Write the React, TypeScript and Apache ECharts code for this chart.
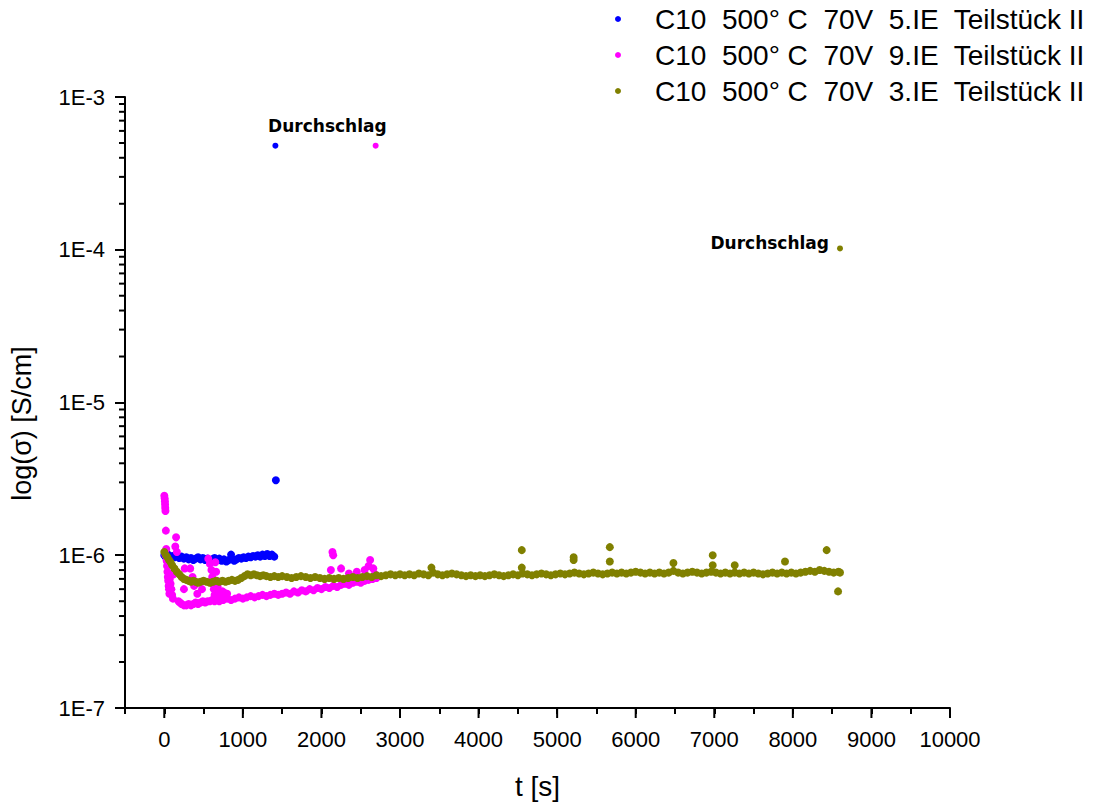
import React, { useEffect, useRef } from "react";
import * as echarts from "echarts";

const UNIT = 1e-6;
const X_MIN = -500;
const X_MAX = 10000;
const Y_MIN = 1e-7;
const Y_MAX = 1e-3;

const seriesNames = [
  "C10  500° C  70V  5.IE  Teilstück II",
  "C10  500° C  70V  9.IE  Teilstück II",
  "C10  500° C  70V  3.IE  Teilstück II",
];
const seriesColors = ["#0000ff", "#ff00ff", "#808000"];

// [t in s, sigma in 1e-6 S/cm]
const blueData: number[][] = [
  [0, 1.0], [20, 0.97], [40, 1.02], [60, 0.98], [80, 0.95], [100, 0.99], [130, 0.97], [160, 1.0],
  [190, 0.96], [220, 0.98], [250, 0.95], [280, 0.97], [310, 0.94], [340, 0.96], [370, 0.93], [400, 0.95],
  [430, 0.97], [460, 0.94], [490, 0.96], [520, 0.93], [550, 0.95], [580, 0.92], [610, 0.94], [640, 0.96],
  [670, 0.93], [700, 0.95], [730, 0.92], [760, 0.94], [790, 0.91], [820, 0.93], [850, 1.01], [860, 0.95],
  [890, 0.92], [920, 0.94], [950, 0.96], [980, 0.95], [1010, 0.97], [1040, 0.96], [1070, 0.98], [1100, 0.97],
  [1130, 0.99], [1160, 0.98], [1190, 1.0], [1220, 0.98], [1250, 1.01], [1280, 0.99], [1310, 1.02], [1340, 0.99],
  [1370, 1.01], [1400, 0.98], [1420, 3.1],
];
const blueBreakdown = [1414, 480];

const magentaData: number[][] = [
  [0, 2.45], [5, 2.35], [8, 2.25], [10, 2.15], [12, 2.05], [15, 1.95], [20, 1.45], [25, 1.1], [15, 1.0],
  [30, 0.92], [35, 0.85], [40, 0.78], [45, 0.72], [50, 0.68], [55, 0.63], [60, 0.6], [65, 0.56], [70, 0.7],
  [80, 0.65], [90, 0.6], [100, 0.55], [110, 0.52], [120, 0.75], [150, 1.31], [140, 1.14], [160, 1.05],
  [180, 0.5], [200, 0.49], [220, 0.48], [250, 0.47], [280, 0.47], [310, 0.48], [340, 0.47], [370, 0.48],
  [400, 0.49], [430, 0.48], [460, 0.49], [490, 0.5], [520, 0.49], [550, 0.5], [580, 0.5], [610, 0.51],
  [640, 0.5], [670, 0.51], [700, 0.5], [250, 0.6], [260, 0.82], [330, 0.82], [360, 0.72], [380, 0.63],
  [420, 0.56], [480, 0.6], [560, 0.95], [580, 0.88], [600, 0.8], [610, 0.72], [620, 0.65], [630, 0.6],
  [640, 0.55], [650, 0.9], [660, 0.78], [670, 0.68], [680, 0.62], [700, 0.58], [720, 0.55], [740, 0.58],
  [760, 0.57], [800, 0.56], [750, 0.51], [800, 0.52], [850, 0.51], [900, 0.52], [950, 0.53], [1000, 0.52],
  [1050, 0.53], [1100, 0.54], [1150, 0.53], [1200, 0.54], [1250, 0.55], [1300, 0.54], [1350, 0.55],
  [1400, 0.56], [1450, 0.55], [1500, 0.56], [1550, 0.57], [1600, 0.56], [1650, 0.58], [1700, 0.57],
  [1750, 0.59], [1800, 0.58], [1850, 0.6], [1900, 0.59], [1950, 0.61], [2000, 0.6], [2050, 0.62],
  [2100, 0.61], [2150, 0.63], [2200, 0.62], [2250, 0.64], [2300, 0.65], [2350, 0.64], [2400, 0.66],
  [2450, 0.67], [2500, 0.66], [2550, 0.68], [2600, 0.69], [2650, 0.7], [2700, 0.71],
  [2140, 1.05], [2150, 1.0], [2120, 0.8], [2250, 0.82], [2350, 0.76], [2450, 0.78], [2550, 0.8],
  [2600, 0.85], [2620, 0.93], [2660, 0.82], [2680, 0.75],
];
const magentaBreakdown = [2690, 480];

const oliveData: number[][] = [
  [0, 1.05], [20, 1.0], [40, 0.97], [60, 0.93], [80, 0.9], [100, 0.86], [130, 0.82], [160, 0.78],
  [190, 0.75], [220, 0.72], [250, 0.7], [280, 0.69], [310, 0.68], [340, 0.67], [370, 0.68], [400, 0.67],
  [430, 0.66], [460, 0.67], [500, 0.68], [540, 0.67], [580, 0.66], [620, 0.67], [660, 0.68], [700, 0.67],
  [740, 0.68], [780, 0.67], [820, 0.68], [860, 0.69], [900, 0.68], [940, 0.69], [980, 0.71], [1020, 0.73],
  [1060, 0.75], [1100, 0.74], [1140, 0.75], [1180, 0.74], [1220, 0.73], [1260, 0.74], [1300, 0.73],
  [1350, 0.72], [1400, 0.73], [1450, 0.72], [1500, 0.73], [1560, 0.72], [1620, 0.71], [1680, 0.72],
  [1740, 0.73], [1800, 0.72], [1860, 0.71], [1920, 0.72], [1980, 0.71], [2040, 0.7], [2100, 0.71],
  [2160, 0.7], [2220, 0.71], [2280, 0.7], [2340, 0.71], [2400, 0.72], [2460, 0.71], [2520, 0.72],
  [2580, 0.73], [2640, 0.72], [2700, 0.74], [2760, 0.73], [2820, 0.74], [2880, 0.75], [2940, 0.74],
  [3000, 0.75], [3060, 0.74], [3120, 0.75], [3180, 0.74], [3240, 0.76], [3300, 0.75], [3360, 0.74],
  [3420, 0.77], [3480, 0.75], [3540, 0.74], [3600, 0.75], [3660, 0.76], [3720, 0.75], [3780, 0.74],
  [3840, 0.73], [3900, 0.74], [3960, 0.73], [4020, 0.74], [4080, 0.73], [4140, 0.74], [4200, 0.75],
  [4260, 0.74], [4320, 0.73], [4380, 0.74], [4440, 0.75], [4500, 0.74], [4560, 0.76], [4620, 0.75],
  [4680, 0.74], [4740, 0.75], [4800, 0.76], [4860, 0.75], [4920, 0.74], [4980, 0.75], [5040, 0.76],
  [5100, 0.75], [5160, 0.76], [5220, 0.77], [5280, 0.76], [5340, 0.75], [5400, 0.76], [5460, 0.77],
  [5520, 0.76], [5580, 0.75], [5640, 0.76], [5700, 0.77], [5760, 0.76], [5820, 0.77], [5880, 0.76],
  [5940, 0.77], [6000, 0.78], [6060, 0.77], [6120, 0.76], [6180, 0.77], [6240, 0.76], [6300, 0.77],
  [6360, 0.76], [6420, 0.77], [6480, 0.79], [6540, 0.77], [6600, 0.76], [6660, 0.77], [6720, 0.78],
  [6780, 0.77], [6840, 0.76], [6900, 0.77], [6960, 0.78], [7020, 0.77], [7080, 0.76], [7140, 0.77],
  [7200, 0.76], [7260, 0.77], [7320, 0.76], [7380, 0.77], [7440, 0.76], [7500, 0.77], [7560, 0.76],
  [7620, 0.75], [7680, 0.76], [7740, 0.77], [7800, 0.76], [7860, 0.77], [7920, 0.76], [7980, 0.77],
  [8040, 0.76], [8100, 0.77], [8160, 0.78], [8220, 0.79], [8280, 0.78], [8340, 0.8], [8400, 0.79],
  [8460, 0.78], [8520, 0.77], [8580, 0.78], [8600, 0.77],
  [3400, 0.83], [4550, 1.08], [4550, 0.83], [5210, 0.97], [5210, 0.93], [5670, 1.13], [5670, 0.91],
  [6480, 0.89], [6980, 1.0], [6980, 0.86], [7260, 0.86], [7900, 0.91], [8430, 1.08], [8575, 0.58],
];
const oliveBreakdown = [8600, 102];

const breakdownLabel = "Durchschlag";
const xMajorTicks = [0, 1000, 2000, 3000, 4000, 5000, 6000, 7000, 8000, 9000, 10000];
const yMinorTicks = [
  2e-7, 3e-7, 4e-7, 5e-7, 6e-7, 7e-7, 8e-7, 9e-7,
  2e-6, 3e-6, 4e-6, 5e-6, 6e-6, 7e-6, 8e-6, 9e-6,
  2e-5, 3e-5, 4e-5, 5e-5, 6e-5, 7e-5, 8e-5, 9e-5,
  2e-4, 3e-4, 4e-4, 5e-4, 6e-4, 7e-4, 8e-4, 9e-4,
];

const toPts = (arr: number[][]) => arr.map((p) => [p[0], p[1] * UNIT]);

export default function App() {
  const ref = useRef<HTMLDivElement>(null);
  useEffect(() => {
    if (!ref.current) return;
    const chart = echarts.init(ref.current, null, { renderer: "svg" });
    const labelFont = {
      fontFamily: "DejaVu Sans",
      fontWeight: "bold" as const,
      fontSize: 17,
      color: "#000",
    };
    const mkSeries = (i: number, arr: number[][], bd: number[], lbl: any) => ({
      type: "scatter",
      name: seriesNames[i],
      symbol: "circle",
      symbolSize: 8,
      itemStyle: { color: seriesColors[i], opacity: 1 },
      data: [
        ...toPts(arr),
        { value: [bd[0], bd[1] * UNIT], label: lbl, symbolSize: 6 },
      ],
      z: i === 2 ? 3 : 2,
    });
    const option: any = {
      animation: false,
      backgroundColor: "#fff",
      textStyle: { fontFamily: "Liberation Sans" },
      grid: { left: 125, right: 155, top: 97, bottom: 95 },
      legend: {
        data: seriesNames,
        orient: "vertical",
        left: 610,
        top: 0,
        itemGap: 8,
        itemWidth: 6,
        itemHeight: 6,
        icon: "circle",
        textStyle: {
          fontFamily: "Liberation Sans",
          fontSize: 28,
          color: "#000",
          padding: [0, 0, 0, 29],
        },
      },
      xAxis: {
        type: "value",
        min: X_MIN,
        max: X_MAX,
        interval: 500,
        name: "t [s]",
        nameLocation: "middle",
        nameGap: 64,
        nameTextStyle: { fontFamily: "Liberation Sans", fontSize: 28, color: "#000" },
        axisLine: { onZero: false, lineStyle: { color: "#000", width: 2 } },
        axisTick: { show: true, length: 6, lineStyle: { color: "#000", width: 2 } },
        axisLabel: {
          margin: 20,
          fontFamily: "Liberation Sans",
          fontSize: 22,
          color: "#000",
          showMinLabel: true,
          showMaxLabel: true,
          formatter: (v: number) => (v >= 0 && v % 1000 === 0 ? String(v) : ""),
        },
        splitLine: { show: false },
      },
      yAxis: {
        type: "log",
        logBase: 10,
        min: Y_MIN,
        max: Y_MAX,
        name: "log(σ) [S/cm]",
        nameLocation: "middle",
        nameGap: 90,
        nameTextStyle: {
          fontFamily: "Liberation Sans",
          fontSize: 27,
          color: "#000",
          padding: [0, 42, 0, 0],
        },
        axisLine: { show: true, onZero: false, lineStyle: { color: "#000", width: 2 } },
        axisTick: { show: true, length: 10, lineStyle: { color: "#000", width: 2 } },
        axisLabel: {
          margin: 20,
          fontFamily: "Liberation Sans",
          fontSize: 22,
          color: "#000",
          formatter: (v: number) => "1E" + Math.round(Math.log10(v)),
        },
        splitLine: { show: false },
      },
      series: [
        mkSeries(0, blueData, blueBreakdown, {
          show: true,
          formatter: breakdownLabel,
          position: "top",
          distance: 8,
          offset: [52, 0],
          ...labelFont,
        }),
        mkSeries(1, magentaData, magentaBreakdown, { show: false }),
        mkSeries(2, oliveData, oliveBreakdown, {
          show: true,
          formatter: breakdownLabel,
          position: "left",
          distance: 8,
          offset: [0, -5],
          ...labelFont,
        }),
        {
          type: "custom",
          silent: true,
          clip: false,
          data: xMajorTicks.map((v) => [v, Y_MIN]),
          renderItem: (params: any, api: any) => {
            const p = api.coord([api.value(0), Y_MIN]);
            return {
              type: "line",
              shape: { x1: p[0], y1: p[1], x2: p[0], y2: p[1] + 10 },
              style: { stroke: "#000", lineWidth: 2 },
            };
          },
        },
        {
          type: "custom",
          silent: true,
          clip: false,
          data: yMinorTicks.map((v) => [X_MIN, v]),
          renderItem: (params: any, api: any) => {
            const p = api.coord([X_MIN, api.value(1)]);
            return {
              type: "line",
              shape: { x1: p[0] - 6, y1: p[1], x2: p[0], y2: p[1] },
              style: { stroke: "#000", lineWidth: 2 },
            };
          },
        },
      ],
    };
    chart.setOption(option);
    return () => chart.dispose();
  }, []);
  return (
    <div
      ref={ref}
      style={{ position: "fixed", left: 0, top: 0, width: 1105, height: 805 }}
    />
  );
}
